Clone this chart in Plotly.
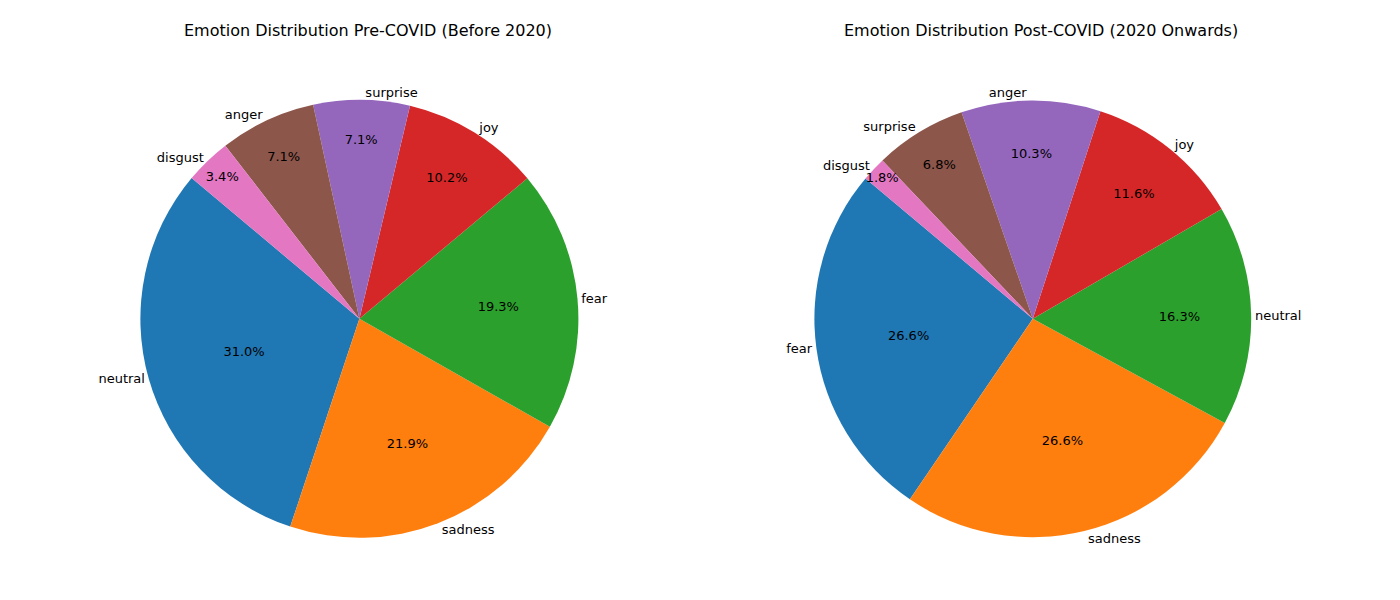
import plotly.graph_objects as go

pre_labels = ["neutral", "sadness", "fear", "joy", "surprise", "anger", "disgust"]
pre_values = [31.0, 21.9, 19.3, 10.2, 7.1, 7.1, 3.4]
post_labels = ["fear", "sadness", "neutral", "joy", "anger", "surprise", "disgust"]
post_values = [26.6, 26.6, 16.3, 11.6, 10.3, 6.8, 1.8]
colors = ["#1f77b4", "#ff7f0e", "#2ca02c", "#d62728", "#9467bd", "#8c564b", "#e377c2"]

font = dict(family="DejaVu Sans", size=13, color="black")
fig = go.Figure()

def add_pie(labels, values, dx):
    dom = dict(x=dx, y=[0.117, 0.847])
    # matplotlib startangle=140 counterclockwise -> plotly rotation
    rot = -50 - 360 * values[0] / sum(values)
    # wedges with percentages inside
    fig.add_trace(go.Pie(labels=labels, values=values, sort=False,
                         direction="counterclockwise", rotation=rot,
                         marker=dict(colors=colors), domain=dom,
                         texttemplate="%{percent:.1%}", textposition="inside",
                         insidetextorientation="horizontal",
                         textfont=font, showlegend=False))
    # transparent overlay carrying the outside labels
    fig.add_trace(go.Pie(labels=labels, values=values, sort=False,
                         direction="counterclockwise", rotation=rot,
                         marker=dict(colors=["rgba(0,0,0,0)"] * len(labels)),
                         domain=dom, text=labels, texttemplate="%{text}",
                         textposition="outside", textfont=font,
                         hoverinfo="skip", showlegend=False))

add_pie(pre_labels, pre_values, [0.094, 0.408])
add_pie(post_labels, post_values, [0.576, 0.888])

for x, t in [(0.257, "Emotion Distribution Pre-COVID (Before 2020)"),
             (0.738, "Emotion Distribution Post-COVID (2020 Onwards)")]:
    fig.add_annotation(x=x, y=0.962, xref="paper", yref="paper", text=t,
                       xanchor="center", yanchor="middle", showarrow=False,
                       font=dict(family="DejaVu Sans", size=16, color="black"))

fig.update_layout(width=1400, height=600, margin=dict(l=0, r=0, t=0, b=0),
                  paper_bgcolor="white", uniformtext=dict(minsize=12, mode="show"))
fig.write_html("out.html")
